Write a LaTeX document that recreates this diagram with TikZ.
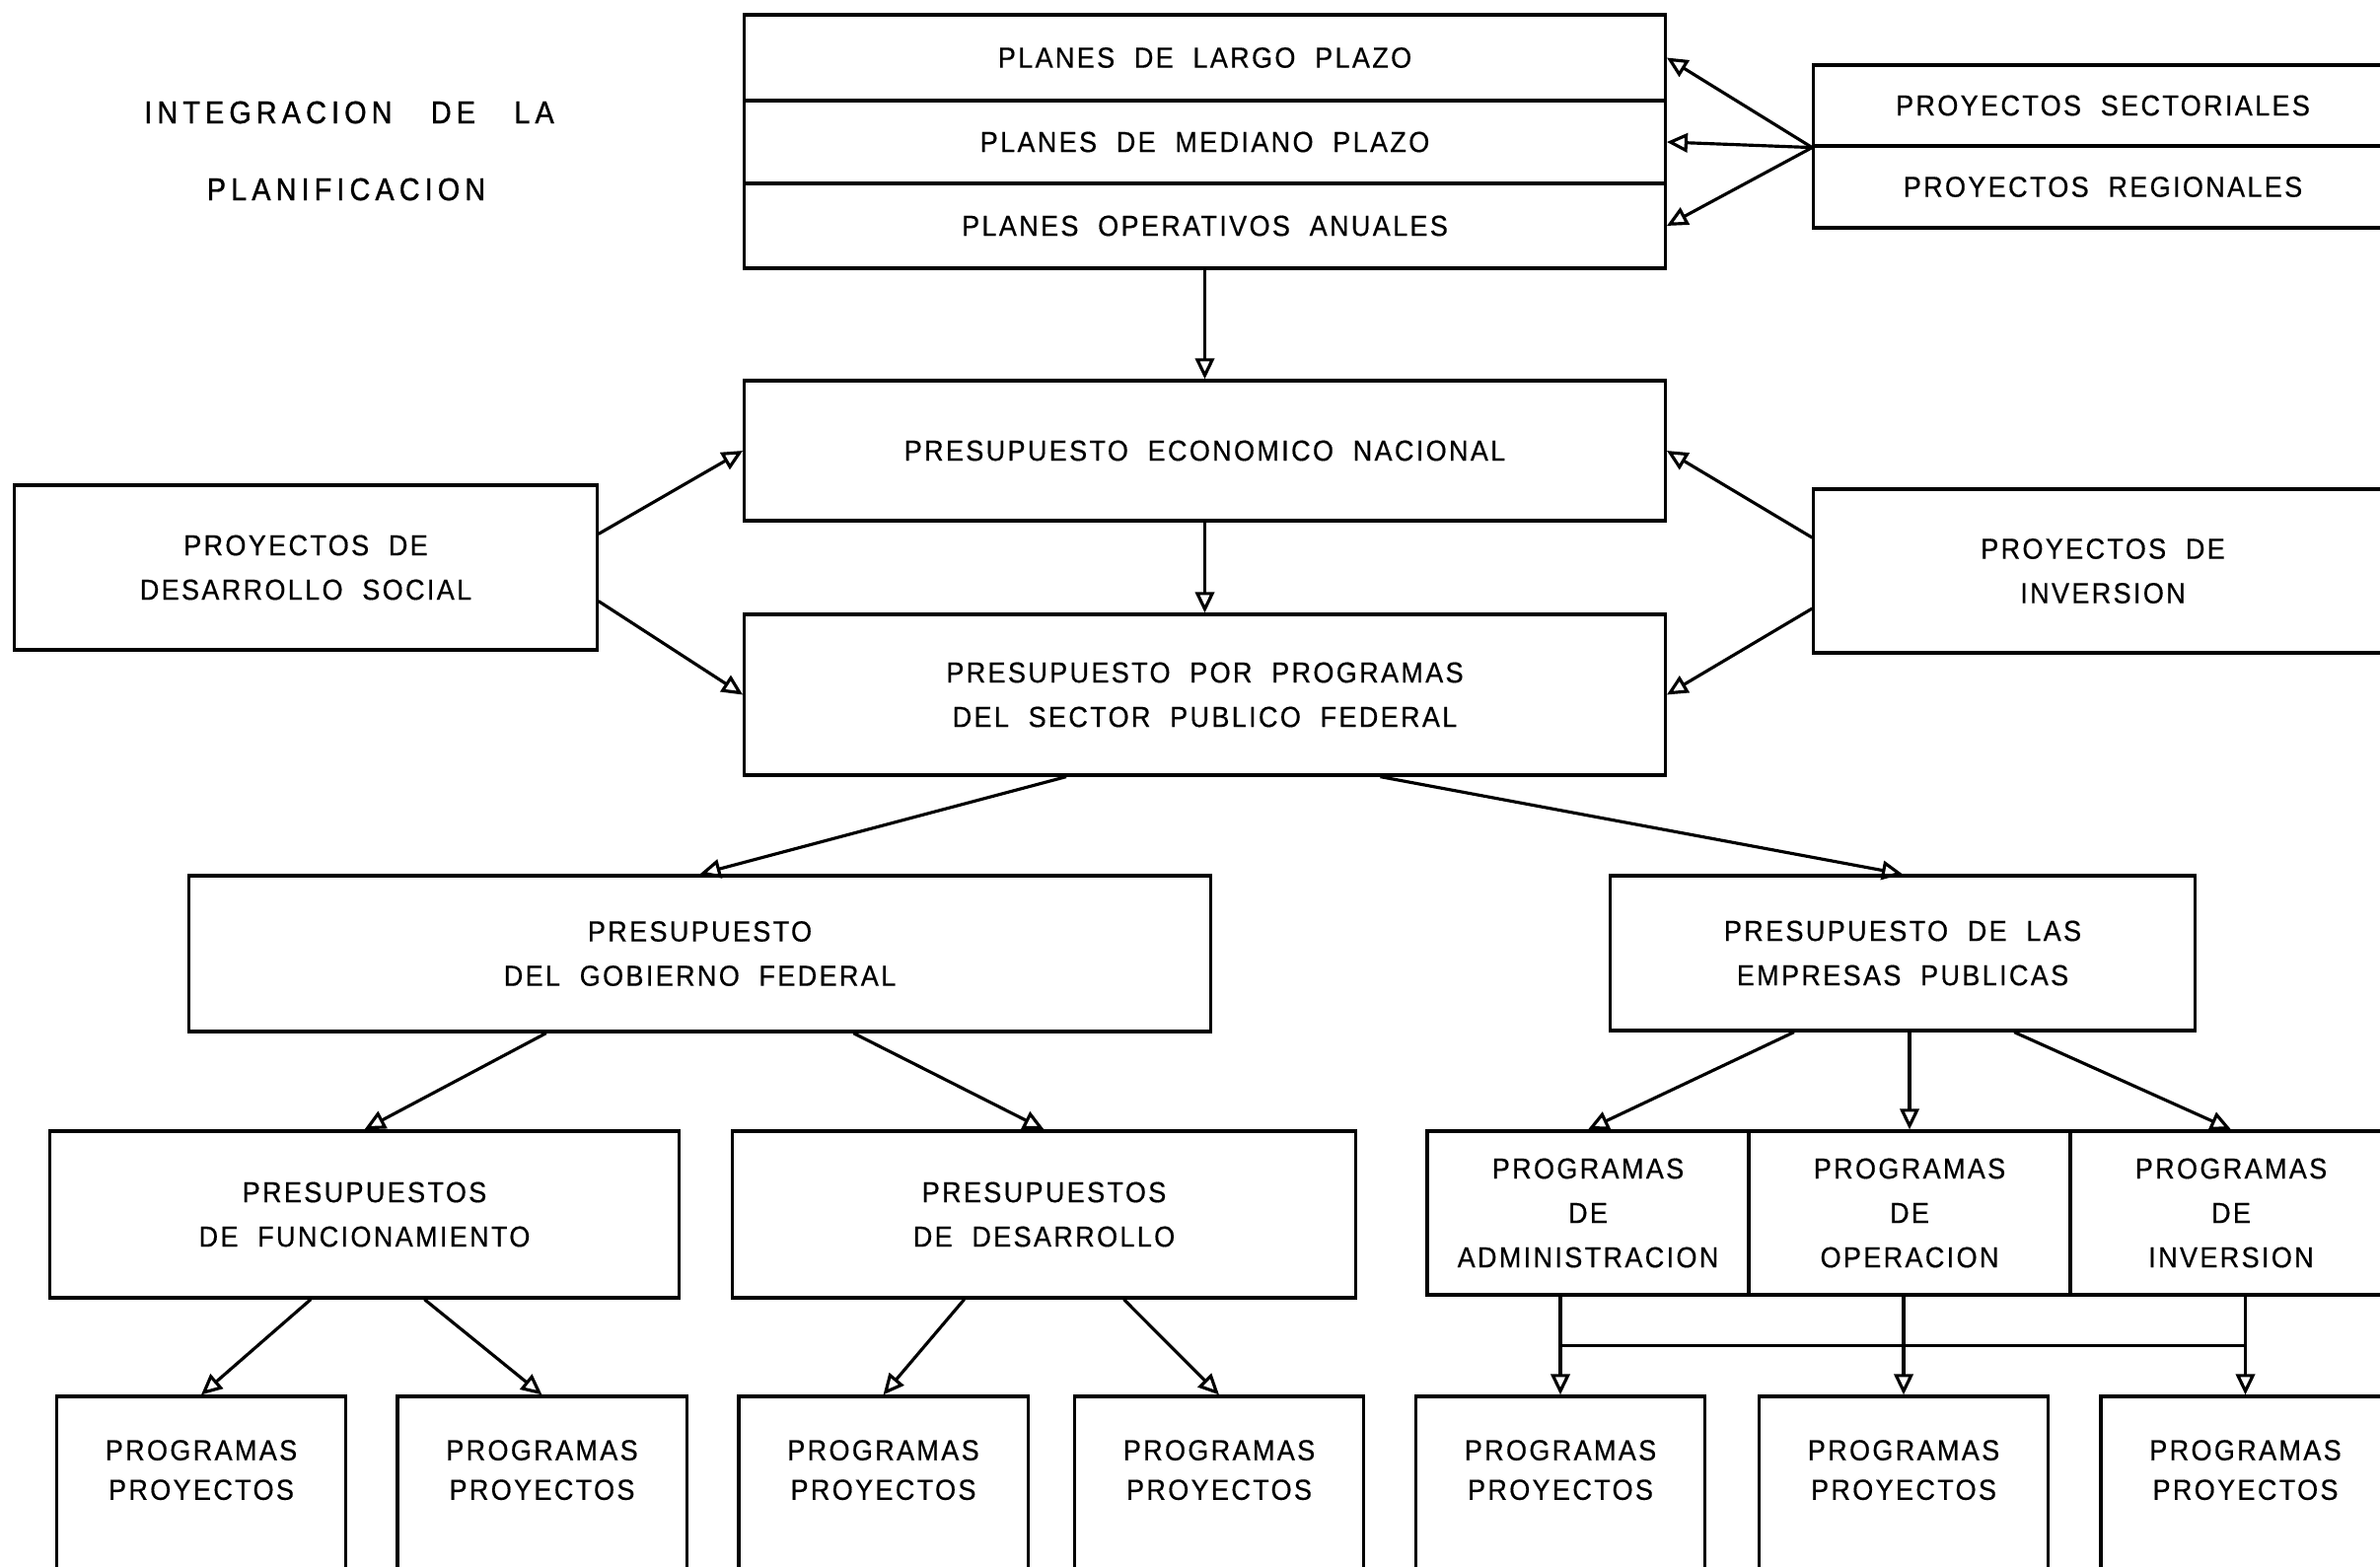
\documentclass[tikz,border=0pt]{standalone}
\usepackage{fontspec}
\setmainfont[FakeStretch=0.92,LetterSpace=8,WordSpace=2,FakeBold=0.5]{Liberation Sans}
\newfontfamily\titulo[FakeStretch=0.9,LetterSpace=16,WordSpace=3,FakeBold=1]{Liberation Sans}
\usetikzlibrary{arrows.meta,calc}

\begin{document}
\begin{tikzpicture}[x=0.01cm,y=-0.01cm,>={Triangle[open,length=6pt,width=5.5pt]},
  caja/.style={draw,line width=0.9pt,inner sep=0pt,align=center,
    font=\fontsize{8.35}{12.8}\selectfont},
  flecha/.style={line width=0.9pt,->}]
\useasboundingbox (0,0) rectangle (2413,1588);
\clip (0,0) rectangle (2413,1588);

\node[font=\titulo\fontsize{9.1}{12}\selectfont] (tit1) at (354,114) {INTEGRACION DE LA};
\node[font=\titulo\fontsize{9.1}{12}\selectfont] (tit2) at (351,192) {PLANIFICACION};

\node[caja,minimum width=9.33cm,minimum height=0.87cm] (lp) at (1221.5,58.5) {PLANES DE LARGO PLAZO};
\node[caja,minimum width=9.33cm,minimum height=0.84cm] (mp) at (1221.5,144) {PLANES DE MEDIANO PLAZO};
\node[caja,minimum width=9.33cm,minimum height=0.86cm] (op) at (1221.5,229) {PLANES OPERATIVOS ANUALES};
\node[caja,minimum width=5.86cm,minimum height=0.82cm] (sect) at (2132,107) {PROYECTOS SECTORIALES};
\node[caja,minimum width=5.86cm,minimum height=0.83cm] (reg) at (2132,189.5) {PROYECTOS REGIONALES};

\node[caja,minimum width=9.33cm,minimum height=1.42cm] (pen) at (1221.5,457) {PRESUPUESTO ECONOMICO NACIONAL};
\node[caja,minimum width=9.33cm,minimum height=1.63cm] (ppp) at (1221.5,704.5) {PRESUPUESTO POR PROGRAMAS\\DEL SECTOR PUBLICO FEDERAL};
\node[caja,minimum width=5.90cm,minimum height=1.67cm] (social) at (310,575.5) {PROYECTOS DE\\DESARROLLO SOCIAL};
\node[caja,minimum width=5.86cm,minimum height=1.66cm] (pinv) at (2132,579) {PROYECTOS DE\\INVERSION};

\node[caja,minimum width=10.35cm,minimum height=1.58cm] (gob) at (709.5,967) {PRESUPUESTO\\DEL GOBIERNO FEDERAL};
\node[caja,minimum width=5.92cm,minimum height=1.57cm] (emp) at (1929,966.5) {PRESUPUESTO DE LAS\\EMPRESAS PUBLICAS};

\node[caja,minimum width=6.37cm,minimum height=1.69cm] (func) at (369.5,1231.5) {PRESUPUESTOS\\DE FUNCIONAMIENTO};
\node[caja,minimum width=6.31cm,minimum height=1.69cm] (desa) at (1058.5,1231.5) {PRESUPUESTOS\\DE DESARROLLO};
\node[caja,minimum width=3.26cm,minimum height=1.66cm] (adm) at (1610,1230) {PROGRAMAS\\DE\\ADMINISTRACION};
\node[caja,minimum width=3.26cm,minimum height=1.66cm] (ope) at (1936,1230) {PROGRAMAS\\DE\\OPERACION};
\node[caja,minimum width=3.26cm,minimum height=1.66cm] (inv) at (2262,1230) {PROGRAMAS\\DE\\INVERSION};

\foreach \n/\x in {1/204,2/549.5,3/895.5,4/1236,5/1582,6/1930,7/2276.5}
{
    \node[caja,minimum width=2.93cm,minimum height=1.84cm,text depth=0.35cm,font=\fontsize{8.35}{11.4}\selectfont] (b\n) at (\x,1508) {PROGRAMAS\\PROYECTOS};
}

\draw[flecha] (op) -- (pen);
\draw[flecha] (pen) -- (ppp);
\foreach \y in {lp,mp,op}
{
    \draw[flecha] (sect.south west) -- (\y.east);
}
\draw[flecha] ($(social.east)!.4!(social.north east)$) -- (pen.west);
\draw[flecha] ($(social.east)!.4!(social.south east)$) -- (ppp.west);
\draw[flecha] ($(pinv.west)!.4!(pinv.north west)$) -- (pen.east);
\draw[flecha] ($(pinv.west)!.45!(pinv.south west)$) -- (ppp.east);

\draw[flecha] ($(ppp.south)!.3!(ppp.south west)$) -- (gob.north);
\draw[flecha] ($(ppp.south)!.38!(ppp.south east)$) -- (emp.north);
\draw[flecha] ($(gob.south)!.3!(gob.south west)$) -- (func.north);
\draw[flecha] ($(gob.south)!.3!(gob.south east)$) -- (desa.north);

\draw[flecha] ($(func.south)!.17!(func.south west)$) -- (b1.north);
\draw[flecha] ($(func.south)!.19!(func.south east)$) -- (b2.north);
\draw[flecha] ($(desa.south)!.255!(desa.south west)$) -- (b3.north);
\draw[flecha] ($(desa.south)!.255!(desa.south east)$) -- (b4.north);

\draw[flecha] ($(emp.south)!.37!(emp.south west)$) -- (adm.north);
\draw[flecha] (ope.north |- emp.south) -- (ope.north);
\draw[flecha] ($(emp.south)!.38!(emp.south east)$) -- (inv.north);

\coordinate (bus) at ($(b5.north)!.5!(b5.north |- adm.south)$);
\draw[line width=0.9pt] (bus) -- (bus -| b7.north);
\draw[flecha] (b5.north |- adm.south) -- (b5.north);
\draw[flecha] (b6.north |- ope.south) -- (b6.north);
\draw[flecha] (b7.north |- inv.south) -- (b7.north);
\end{tikzpicture}
\end{document}
